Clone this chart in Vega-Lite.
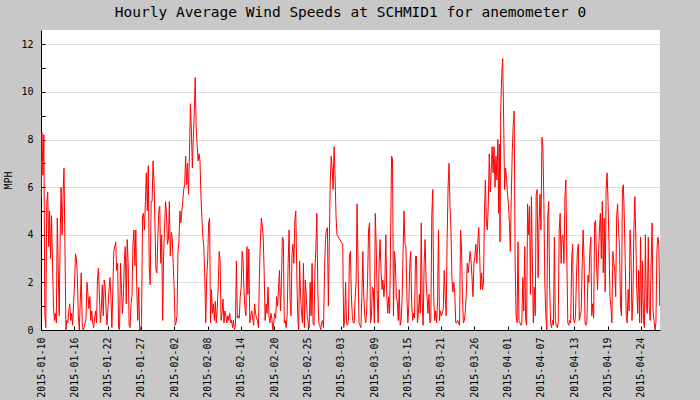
{
  "$schema": "https://vega.github.io/schema/vega-lite/v6.json",
  "width": 619,
  "height": 300,
  "autosize": {"type": "none"},
  "padding": {"left": 41, "top": 30, "right": 40, "bottom": 70},
  "background": "#c8c8c8",
  "config": {
    "view": {"stroke": null, "fill": "#ffffff"},
    "font": "DejaVu Sans Mono"
  },
  "title": {
    "text": "Hourly Average Wind Speeds at SCHMID1 for anemometer 0",
    "font": "DejaVu Sans Mono",
    "fontSize": 14.5,
    "fontWeight": "normal",
    "color": "#000000",
    "anchor": "middle",
    "frame": "group",
    "baseline": "alphabetic",
    "offset": 14,
    "dy": 15
  },
  "data": {"values": [
{"t":"2015-01-10T12:00","v":5.5},{"t":"2015-01-10T16:00","v":8.3},{"t":"2015-01-10T20:00","v":6.5},
{"t":"2015-01-11T00:00","v":8.2},{"t":"2015-01-11T04:00","v":0.6},{"t":"2015-01-11T08:00","v":0.1},{"t":"2015-01-11T12:00","v":5.3},{"t":"2015-01-11T16:00","v":5.8},{"t":"2015-01-11T20:00","v":3.5},
{"t":"2015-01-12T00:00","v":5.0},{"t":"2015-01-12T04:00","v":3.0},{"t":"2015-01-12T08:00","v":4.8},{"t":"2015-01-12T12:00","v":2.9},{"t":"2015-01-12T16:00","v":1.0},{"t":"2015-01-12T20:00","v":0.4},
{"t":"2015-01-13T00:00","v":0.7},{"t":"2015-01-13T04:00","v":0.3},{"t":"2015-01-13T08:00","v":4.7},{"t":"2015-01-13T12:00","v":2.5},{"t":"2015-01-13T16:00","v":0.6},{"t":"2015-01-13T20:00","v":3.9},
{"t":"2015-01-14T00:00","v":6.0},{"t":"2015-01-14T04:00","v":4.0},{"t":"2015-01-14T08:00","v":5.6},{"t":"2015-01-14T12:00","v":6.8},{"t":"2015-01-14T16:00","v":3.5},{"t":"2015-01-14T20:00","v":0.0},
{"t":"2015-01-15T00:00","v":0.4},{"t":"2015-01-15T04:00","v":0.3},{"t":"2015-01-15T08:00","v":0.8},{"t":"2015-01-15T12:00","v":1.1},{"t":"2015-01-15T16:00","v":0.4},{"t":"2015-01-15T20:00","v":0.7},
{"t":"2015-01-16T00:00","v":0.2},{"t":"2015-01-16T04:00","v":1.1},{"t":"2015-01-16T08:00","v":1.9},{"t":"2015-01-16T12:00","v":3.2},{"t":"2015-01-16T16:00","v":3.0},{"t":"2015-01-16T20:00","v":2.2},
{"t":"2015-01-17T00:00","v":0.6},{"t":"2015-01-17T04:00","v":0.0},{"t":"2015-01-17T08:00","v":1.2},{"t":"2015-01-17T12:00","v":2.4},{"t":"2015-01-17T16:00","v":0.3},{"t":"2015-01-17T20:00","v":0.0},
{"t":"2015-01-18T00:00","v":0.1},{"t":"2015-01-18T04:00","v":0.3},{"t":"2015-01-18T08:00","v":0.5},{"t":"2015-01-18T12:00","v":2.0},{"t":"2015-01-18T16:00","v":1.5},{"t":"2015-01-18T20:00","v":0.9},
{"t":"2015-01-19T00:00","v":1.4},{"t":"2015-01-19T04:00","v":0.4},{"t":"2015-01-19T08:00","v":0.8},{"t":"2015-01-19T12:00","v":0.3},{"t":"2015-01-19T16:00","v":0.1},{"t":"2015-01-19T20:00","v":0.5},
{"t":"2015-01-20T00:00","v":0.8},{"t":"2015-01-20T04:00","v":0.3},{"t":"2015-01-20T08:00","v":2.2},{"t":"2015-01-20T12:00","v":2.6},{"t":"2015-01-20T16:00","v":1.4},{"t":"2015-01-20T20:00","v":0.3},
{"t":"2015-01-21T00:00","v":0.9},{"t":"2015-01-21T04:00","v":1.9},{"t":"2015-01-21T08:00","v":0.6},{"t":"2015-01-21T12:00","v":2.1},{"t":"2015-01-21T16:00","v":1.8},{"t":"2015-01-21T20:00","v":0.8},
{"t":"2015-01-22T00:00","v":0.2},{"t":"2015-01-22T04:00","v":1.0},{"t":"2015-01-22T08:00","v":1.7},{"t":"2015-01-22T12:00","v":2.2},{"t":"2015-01-22T16:00","v":1.4},{"t":"2015-01-22T20:00","v":0.1},
{"t":"2015-01-23T00:00","v":1.7},{"t":"2015-01-23T04:00","v":3.3},{"t":"2015-01-23T08:00","v":3.5},{"t":"2015-01-23T12:00","v":3.7},{"t":"2015-01-23T16:00","v":2.5},{"t":"2015-01-23T20:00","v":2.8},
{"t":"2015-01-24T00:00","v":0.1},{"t":"2015-01-24T04:00","v":0.0},{"t":"2015-01-24T08:00","v":2.8},{"t":"2015-01-24T12:00","v":1.7},{"t":"2015-01-24T16:00","v":0.7},{"t":"2015-01-24T20:00","v":1.4},
{"t":"2015-01-25T00:00","v":2.9},{"t":"2015-01-25T04:00","v":3.5},{"t":"2015-01-25T08:00","v":1.1},{"t":"2015-01-25T12:00","v":3.8},{"t":"2015-01-25T16:00","v":2.8},{"t":"2015-01-25T20:00","v":0.2},
{"t":"2015-01-26T00:00","v":0.1},{"t":"2015-01-26T04:00","v":1.1},{"t":"2015-01-26T08:00","v":1.4},{"t":"2015-01-26T12:00","v":3.6},{"t":"2015-01-26T16:00","v":4.2},{"t":"2015-01-26T20:00","v":2.7},
{"t":"2015-01-27T00:00","v":4.2},{"t":"2015-01-27T04:00","v":1.7},{"t":"2015-01-27T08:00","v":0.4},{"t":"2015-01-27T12:00","v":1.8},{"t":"2015-01-27T16:00","v":0.0},{"t":"2015-01-27T20:00","v":0.0},
{"t":"2015-01-28T00:00","v":0.3},{"t":"2015-01-28T04:00","v":4.8},{"t":"2015-01-28T08:00","v":4.9},{"t":"2015-01-28T12:00","v":4.2},{"t":"2015-01-28T16:00","v":5.4},{"t":"2015-01-28T20:00","v":6.6},
{"t":"2015-01-29T00:00","v":5.0},{"t":"2015-01-29T04:00","v":6.9},{"t":"2015-01-29T08:00","v":2.7},{"t":"2015-01-29T12:00","v":1.9},{"t":"2015-01-29T16:00","v":5.4},{"t":"2015-01-29T20:00","v":5.4},
{"t":"2015-01-30T00:00","v":7.1},{"t":"2015-01-30T04:00","v":6.2},{"t":"2015-01-30T08:00","v":4.4},{"t":"2015-01-30T12:00","v":2.5},{"t":"2015-01-30T16:00","v":2.4},{"t":"2015-01-30T20:00","v":3.9},
{"t":"2015-01-31T00:00","v":5.0},{"t":"2015-01-31T04:00","v":5.2},{"t":"2015-01-31T08:00","v":2.8},{"t":"2015-01-31T12:00","v":4.0},{"t":"2015-01-31T16:00","v":0.4},{"t":"2015-01-31T20:00","v":3.1},
{"t":"2015-02-01T00:00","v":4.3},{"t":"2015-02-01T04:00","v":5.4},{"t":"2015-02-01T08:00","v":4.9},{"t":"2015-02-01T12:00","v":3.6},{"t":"2015-02-01T16:00","v":3.8},{"t":"2015-02-01T20:00","v":5.4},
{"t":"2015-02-02T00:00","v":3.1},{"t":"2015-02-02T04:00","v":4.1},{"t":"2015-02-02T08:00","v":3.9},{"t":"2015-02-02T12:00","v":2.8},{"t":"2015-02-02T16:00","v":1.8},{"t":"2015-02-02T20:00","v":0.2},
{"t":"2015-02-03T00:00","v":0.3},{"t":"2015-02-03T04:00","v":0.6},{"t":"2015-02-03T08:00","v":3.3},{"t":"2015-02-03T12:00","v":3.7},{"t":"2015-02-03T16:00","v":5.0},{"t":"2015-02-03T20:00","v":4.5},
{"t":"2015-02-04T00:00","v":5.0},{"t":"2015-02-04T04:00","v":5.4},{"t":"2015-02-04T08:00","v":5.9},{"t":"2015-02-04T12:00","v":6.1},{"t":"2015-02-04T16:00","v":7.3},{"t":"2015-02-04T20:00","v":6.1},
{"t":"2015-02-05T00:00","v":7.0},{"t":"2015-02-05T04:00","v":5.7},{"t":"2015-02-05T08:00","v":7.4},{"t":"2015-02-05T12:00","v":9.5},{"t":"2015-02-05T16:00","v":8.4},{"t":"2015-02-05T20:00","v":6.8},
{"t":"2015-02-06T00:00","v":8.0},{"t":"2015-02-06T04:00","v":9.1},{"t":"2015-02-06T08:00","v":10.6},{"t":"2015-02-06T12:00","v":8.5},{"t":"2015-02-06T16:00","v":7.8},{"t":"2015-02-06T20:00","v":7.1},
{"t":"2015-02-07T00:00","v":7.4},{"t":"2015-02-07T04:00","v":7.1},{"t":"2015-02-07T08:00","v":5.6},{"t":"2015-02-07T12:00","v":4.7},{"t":"2015-02-07T16:00","v":3.9},{"t":"2015-02-07T20:00","v":3.5},
{"t":"2015-02-08T00:00","v":2.2},{"t":"2015-02-08T04:00","v":0.3},{"t":"2015-02-08T08:00","v":2.2},{"t":"2015-02-08T12:00","v":2.9},{"t":"2015-02-08T16:00","v":4.5},{"t":"2015-02-08T20:00","v":4.7},
{"t":"2015-02-09T00:00","v":0.3},{"t":"2015-02-09T04:00","v":1.7},{"t":"2015-02-09T08:00","v":0.7},{"t":"2015-02-09T12:00","v":1.1},{"t":"2015-02-09T16:00","v":0.4},{"t":"2015-02-09T20:00","v":1.2},
{"t":"2015-02-10T00:00","v":0.3},{"t":"2015-02-10T04:00","v":0.9},{"t":"2015-02-10T08:00","v":1.8},{"t":"2015-02-10T12:00","v":3.3},{"t":"2015-02-10T16:00","v":2.9},{"t":"2015-02-10T20:00","v":0.4},
{"t":"2015-02-11T00:00","v":0.7},{"t":"2015-02-11T04:00","v":1.3},{"t":"2015-02-11T08:00","v":0.3},{"t":"2015-02-11T12:00","v":0.8},{"t":"2015-02-11T16:00","v":0.6},{"t":"2015-02-11T20:00","v":0.3},
{"t":"2015-02-12T00:00","v":0.6},{"t":"2015-02-12T04:00","v":0.4},{"t":"2015-02-12T08:00","v":0.7},{"t":"2015-02-12T12:00","v":0.3},{"t":"2015-02-12T16:00","v":0.4},{"t":"2015-02-12T20:00","v":0.1},
{"t":"2015-02-13T00:00","v":0.4},{"t":"2015-02-13T04:00","v":0.0},{"t":"2015-02-13T08:00","v":0.2},{"t":"2015-02-13T12:00","v":2.9},{"t":"2015-02-13T16:00","v":0.5},{"t":"2015-02-13T20:00","v":0.6},
{"t":"2015-02-14T00:00","v":0.5},{"t":"2015-02-14T04:00","v":1.4},{"t":"2015-02-14T08:00","v":1.8},{"t":"2015-02-14T12:00","v":3.3},{"t":"2015-02-14T16:00","v":2.9},{"t":"2015-02-14T20:00","v":1.6},
{"t":"2015-02-15T00:00","v":0.9},{"t":"2015-02-15T04:00","v":0.6},{"t":"2015-02-15T08:00","v":3.5},{"t":"2015-02-15T12:00","v":1.5},{"t":"2015-02-15T16:00","v":3.4},{"t":"2015-02-15T20:00","v":0.3},
{"t":"2015-02-16T00:00","v":0.6},{"t":"2015-02-16T04:00","v":0.8},{"t":"2015-02-16T08:00","v":0.5},{"t":"2015-02-16T12:00","v":0.2},{"t":"2015-02-16T16:00","v":1.1},{"t":"2015-02-16T20:00","v":0.7},
{"t":"2015-02-17T00:00","v":0.5},{"t":"2015-02-17T04:00","v":0.4},{"t":"2015-02-17T08:00","v":0.1},{"t":"2015-02-17T12:00","v":2.2},{"t":"2015-02-17T16:00","v":3.7},{"t":"2015-02-17T20:00","v":4.7},
{"t":"2015-02-18T00:00","v":4.4},{"t":"2015-02-18T04:00","v":3.9},{"t":"2015-02-18T08:00","v":2.4},{"t":"2015-02-18T12:00","v":0.4},{"t":"2015-02-18T16:00","v":1.1},{"t":"2015-02-18T20:00","v":0.7},
{"t":"2015-02-19T00:00","v":1.8},{"t":"2015-02-19T04:00","v":0.6},{"t":"2015-02-19T08:00","v":0.3},{"t":"2015-02-19T12:00","v":0.7},{"t":"2015-02-19T16:00","v":0.5},{"t":"2015-02-19T20:00","v":0.0},
{"t":"2015-02-20T00:00","v":0.3},{"t":"2015-02-20T04:00","v":0.7},{"t":"2015-02-20T08:00","v":0.5},{"t":"2015-02-20T12:00","v":1.4},{"t":"2015-02-20T16:00","v":1.0},{"t":"2015-02-20T20:00","v":1.8},
{"t":"2015-02-21T00:00","v":2.5},{"t":"2015-02-21T04:00","v":0.8},{"t":"2015-02-21T08:00","v":1.9},{"t":"2015-02-21T12:00","v":3.9},{"t":"2015-02-21T16:00","v":3.8},{"t":"2015-02-21T20:00","v":0.3},
{"t":"2015-02-22T00:00","v":0.4},{"t":"2015-02-22T04:00","v":0.1},{"t":"2015-02-22T08:00","v":0.6},{"t":"2015-02-22T12:00","v":2.8},{"t":"2015-02-22T16:00","v":4.2},{"t":"2015-02-22T20:00","v":1.3},
{"t":"2015-02-23T00:00","v":0.6},{"t":"2015-02-23T04:00","v":3.1},{"t":"2015-02-23T08:00","v":3.6},{"t":"2015-02-23T12:00","v":2.8},{"t":"2015-02-23T16:00","v":4.6},{"t":"2015-02-23T20:00","v":5.0},
{"t":"2015-02-24T00:00","v":2.5},{"t":"2015-02-24T04:00","v":0.6},{"t":"2015-02-24T08:00","v":0.0},{"t":"2015-02-24T12:00","v":2.9},{"t":"2015-02-24T16:00","v":1.5},{"t":"2015-02-24T20:00","v":0.7},
{"t":"2015-02-25T00:00","v":0.3},{"t":"2015-02-25T04:00","v":2.8},{"t":"2015-02-25T08:00","v":0.1},{"t":"2015-02-25T12:00","v":2.1},{"t":"2015-02-25T16:00","v":1.4},{"t":"2015-02-25T20:00","v":0.5},
{"t":"2015-02-26T00:00","v":0.3},{"t":"2015-02-26T04:00","v":0.1},{"t":"2015-02-26T08:00","v":2.0},{"t":"2015-02-26T12:00","v":0.6},{"t":"2015-02-26T16:00","v":2.8},{"t":"2015-02-26T20:00","v":0.3},
{"t":"2015-02-27T00:00","v":0.2},{"t":"2015-02-27T04:00","v":2.5},{"t":"2015-02-27T08:00","v":3.5},{"t":"2015-02-27T12:00","v":4.9},{"t":"2015-02-27T16:00","v":1.7},{"t":"2015-02-27T20:00","v":0.3},
{"t":"2015-02-28T00:00","v":0.2},{"t":"2015-02-28T04:00","v":0.0},{"t":"2015-02-28T08:00","v":0.3},{"t":"2015-02-28T12:00","v":0.4},{"t":"2015-02-28T16:00","v":0.1},{"t":"2015-02-28T20:00","v":2.5},
{"t":"2015-03-01T00:00","v":3.8},{"t":"2015-03-01T04:00","v":4.2},{"t":"2015-03-01T08:00","v":4.3},{"t":"2015-03-01T12:00","v":1.0},{"t":"2015-03-01T16:00","v":3.6},{"t":"2015-03-01T20:00","v":6.3},
{"t":"2015-03-02T00:00","v":7.3},{"t":"2015-03-02T04:00","v":6.8},{"t":"2015-03-02T08:00","v":5.9},{"t":"2015-03-02T12:00","v":7.7},{"t":"2015-03-02T16:00","v":6.5},{"t":"2015-03-02T20:00","v":4.8},
{"t":"2015-03-03T00:00","v":4.0},
{"t":"2015-03-04T00:00","v":3.6},{"t":"2015-03-04T04:00","v":0.1},{"t":"2015-03-04T08:00","v":0.4},{"t":"2015-03-04T12:00","v":2.0},{"t":"2015-03-04T16:00","v":0.3},{"t":"2015-03-04T20:00","v":0.2},
{"t":"2015-03-05T00:00","v":0.4},{"t":"2015-03-05T04:00","v":3.1},{"t":"2015-03-05T08:00","v":3.3},{"t":"2015-03-05T12:00","v":1.5},{"t":"2015-03-05T16:00","v":0.6},{"t":"2015-03-05T20:00","v":0.3},
{"t":"2015-03-06T00:00","v":0.3},{"t":"2015-03-06T04:00","v":1.4},{"t":"2015-03-06T08:00","v":2.0},{"t":"2015-03-06T12:00","v":5.3},{"t":"2015-03-06T16:00","v":2.8},{"t":"2015-03-06T20:00","v":0.3},
{"t":"2015-03-07T00:00","v":0.2},{"t":"2015-03-07T04:00","v":0.1},{"t":"2015-03-07T08:00","v":1.4},{"t":"2015-03-07T12:00","v":3.3},{"t":"2015-03-07T16:00","v":1.4},{"t":"2015-03-07T20:00","v":0.6},
{"t":"2015-03-08T00:00","v":0.3},{"t":"2015-03-08T04:00","v":0.8},{"t":"2015-03-08T08:00","v":2.2},{"t":"2015-03-08T12:00","v":4.2},{"t":"2015-03-08T16:00","v":4.5},{"t":"2015-03-08T20:00","v":0.3},
{"t":"2015-03-09T00:00","v":0.6},{"t":"2015-03-09T04:00","v":1.8},{"t":"2015-03-09T08:00","v":1.7},{"t":"2015-03-09T12:00","v":0.3},{"t":"2015-03-09T16:00","v":4.9},{"t":"2015-03-09T20:00","v":3.5},
{"t":"2015-03-10T00:00","v":1.4},{"t":"2015-03-10T04:00","v":0.3},{"t":"2015-03-10T08:00","v":2.8},{"t":"2015-03-10T12:00","v":3.8},{"t":"2015-03-10T16:00","v":2.5},{"t":"2015-03-10T20:00","v":1.7},
{"t":"2015-03-11T00:00","v":2.1},{"t":"2015-03-11T04:00","v":1.4},{"t":"2015-03-11T08:00","v":2.0},{"t":"2015-03-11T12:00","v":4.0},{"t":"2015-03-11T16:00","v":1.5},{"t":"2015-03-11T20:00","v":0.7},
{"t":"2015-03-12T00:00","v":1.4},{"t":"2015-03-12T04:00","v":0.7},{"t":"2015-03-12T08:00","v":3.9},{"t":"2015-03-12T12:00","v":7.3},{"t":"2015-03-12T16:00","v":7.2},{"t":"2015-03-12T20:00","v":0.6},
{"t":"2015-03-13T00:00","v":3.3},{"t":"2015-03-13T04:00","v":2.8},{"t":"2015-03-13T08:00","v":1.4},{"t":"2015-03-13T12:00","v":1.2},{"t":"2015-03-13T16:00","v":0.4},{"t":"2015-03-13T20:00","v":1.7},
{"t":"2015-03-14T00:00","v":0.2},{"t":"2015-03-14T04:00","v":0.4},{"t":"2015-03-14T08:00","v":1.3},{"t":"2015-03-14T12:00","v":3.3},{"t":"2015-03-14T16:00","v":5.0},{"t":"2015-03-14T20:00","v":3.6},
{"t":"2015-03-15T00:00","v":3.5},{"t":"2015-03-15T04:00","v":1.4},{"t":"2015-03-15T08:00","v":0.3},{"t":"2015-03-15T12:00","v":1.0},{"t":"2015-03-15T16:00","v":2.8},{"t":"2015-03-15T20:00","v":3.3},
{"t":"2015-03-16T00:00","v":1.1},{"t":"2015-03-16T04:00","v":0.4},{"t":"2015-03-16T08:00","v":0.7},{"t":"2015-03-16T12:00","v":0.5},{"t":"2015-03-16T16:00","v":3.1},{"t":"2015-03-16T20:00","v":3.1},
{"t":"2015-03-17T00:00","v":0.3},{"t":"2015-03-17T04:00","v":0.7},{"t":"2015-03-17T08:00","v":1.5},{"t":"2015-03-17T12:00","v":0.7},{"t":"2015-03-17T16:00","v":4.5},{"t":"2015-03-17T20:00","v":1.1},
{"t":"2015-03-18T00:00","v":0.2},{"t":"2015-03-18T04:00","v":2.8},{"t":"2015-03-18T08:00","v":3.8},{"t":"2015-03-18T12:00","v":2.1},{"t":"2015-03-18T16:00","v":1.4},{"t":"2015-03-18T20:00","v":0.7},
{"t":"2015-03-19T00:00","v":1.5},{"t":"2015-03-19T04:00","v":0.3},{"t":"2015-03-19T08:00","v":0.4},{"t":"2015-03-19T12:00","v":4.8},{"t":"2015-03-19T16:00","v":5.9},{"t":"2015-03-19T20:00","v":1.4},
{"t":"2015-03-20T00:00","v":0.4},{"t":"2015-03-20T04:00","v":0.8},{"t":"2015-03-20T08:00","v":0.3},{"t":"2015-03-20T12:00","v":1.2},{"t":"2015-03-20T16:00","v":4.2},{"t":"2015-03-20T20:00","v":0.4},
{"t":"2015-03-21T00:00","v":0.8},{"t":"2015-03-21T04:00","v":0.6},{"t":"2015-03-21T08:00","v":0.7},{"t":"2015-03-21T12:00","v":0.9},{"t":"2015-03-21T16:00","v":2.5},{"t":"2015-03-21T20:00","v":1.4},
{"t":"2015-03-22T00:00","v":0.6},{"t":"2015-03-22T04:00","v":3.8},{"t":"2015-03-22T08:00","v":6.0},{"t":"2015-03-22T12:00","v":7.0},{"t":"2015-03-22T16:00","v":5.2},{"t":"2015-03-22T20:00","v":4.2},
{"t":"2015-03-23T00:00","v":2.2},{"t":"2015-03-23T04:00","v":1.6},{"t":"2015-03-23T08:00","v":2.0},{"t":"2015-03-23T12:00","v":1.5},{"t":"2015-03-23T16:00","v":0.3},{"t":"2015-03-23T20:00","v":0.3},
{"t":"2015-03-24T00:00","v":0.4},{"t":"2015-03-24T04:00","v":0.3},{"t":"2015-03-24T08:00","v":0.2},{"t":"2015-03-24T12:00","v":4.2},{"t":"2015-03-24T16:00","v":3.5},{"t":"2015-03-24T20:00","v":1.4},
{"t":"2015-03-25T00:00","v":0.3},{"t":"2015-03-25T04:00","v":0.4},{"t":"2015-03-25T08:00","v":0.8},{"t":"2015-03-25T12:00","v":1.5},{"t":"2015-03-25T16:00","v":2.8},{"t":"2015-03-25T20:00","v":2.4},
{"t":"2015-03-26T00:00","v":2.8},{"t":"2015-03-26T04:00","v":3.3},{"t":"2015-03-26T08:00","v":2.9},{"t":"2015-03-26T12:00","v":2.2},{"t":"2015-03-26T16:00","v":1.4},{"t":"2015-03-26T20:00","v":2.8},
{"t":"2015-03-27T00:00","v":3.1},{"t":"2015-03-27T04:00","v":3.6},{"t":"2015-03-27T08:00","v":2.8},{"t":"2015-03-27T12:00","v":3.6},{"t":"2015-03-27T16:00","v":4.3},{"t":"2015-03-27T20:00","v":3.1},
{"t":"2015-03-28T00:00","v":1.7},{"t":"2015-03-28T04:00","v":2.4},{"t":"2015-03-28T08:00","v":1.7},{"t":"2015-03-28T12:00","v":2.0},{"t":"2015-03-28T16:00","v":5.0},{"t":"2015-03-28T20:00","v":6.3},
{"t":"2015-03-29T00:00","v":4.5},{"t":"2015-03-29T04:00","v":4.2},{"t":"2015-03-29T08:00","v":5.3},{"t":"2015-03-29T12:00","v":7.4},{"t":"2015-03-29T16:00","v":5.8},{"t":"2015-03-29T20:00","v":6.6},
{"t":"2015-03-30T00:00","v":7.7},{"t":"2015-03-30T04:00","v":6.6},{"t":"2015-03-30T08:00","v":7.7},{"t":"2015-03-30T12:00","v":6.0},{"t":"2015-03-30T16:00","v":7.3},{"t":"2015-03-30T20:00","v":6.3},
{"t":"2015-03-31T00:00","v":8.0},{"t":"2015-03-31T03:00","v":4.9},{"t":"2015-03-31T06:00","v":7.8},{"t":"2015-03-31T09:00","v":3.7},{"t":"2015-03-31T12:00","v":9.3},{"t":"2015-03-31T16:00","v":10.7},{"t":"2015-03-31T20:00","v":11.4},
{"t":"2015-04-01T00:00","v":8.9},{"t":"2015-04-01T04:00","v":5.9},{"t":"2015-04-01T08:00","v":6.8},{"t":"2015-04-01T12:00","v":6.4},{"t":"2015-04-01T16:00","v":5.7},{"t":"2015-04-01T20:00","v":5.3},
{"t":"2015-04-02T00:00","v":4.5},{"t":"2015-04-02T04:00","v":3.3},{"t":"2015-04-02T08:00","v":5.6},{"t":"2015-04-02T12:00","v":7.5},{"t":"2015-04-02T16:00","v":8.6},{"t":"2015-04-02T20:00","v":9.2},
{"t":"2015-04-03T00:00","v":2.8},{"t":"2015-04-03T04:00","v":0.6},{"t":"2015-04-03T08:00","v":0.3},{"t":"2015-04-03T12:00","v":3.7},{"t":"2015-04-03T16:00","v":0.4},{"t":"2015-04-03T20:00","v":0.3},
{"t":"2015-04-04T00:00","v":0.2},{"t":"2015-04-04T04:00","v":0.3},{"t":"2015-04-04T08:00","v":2.2},{"t":"2015-04-04T12:00","v":0.8},{"t":"2015-04-04T16:00","v":3.5},{"t":"2015-04-04T20:00","v":0.4},
{"t":"2015-04-05T00:00","v":0.2},{"t":"2015-04-05T04:00","v":5.3},{"t":"2015-04-05T08:00","v":4.0},{"t":"2015-04-05T12:00","v":5.2},{"t":"2015-04-05T16:00","v":1.5},{"t":"2015-04-05T20:00","v":5.6},
{"t":"2015-04-06T00:00","v":2.9},{"t":"2015-04-06T04:00","v":0.3},{"t":"2015-04-06T08:00","v":1.8},{"t":"2015-04-06T12:00","v":0.6},{"t":"2015-04-06T16:00","v":5.7},{"t":"2015-04-06T20:00","v":5.9},
{"t":"2015-04-07T00:00","v":2.2},{"t":"2015-04-07T04:00","v":4.5},{"t":"2015-04-07T08:00","v":5.7},{"t":"2015-04-07T12:00","v":4.2},{"t":"2015-04-07T16:00","v":8.1},{"t":"2015-04-07T20:00","v":7.7},
{"t":"2015-04-08T00:00","v":5.4},{"t":"2015-04-08T04:00","v":2.0},{"t":"2015-04-08T08:00","v":0.7},{"t":"2015-04-08T12:00","v":0.0},{"t":"2015-04-08T16:00","v":4.7},{"t":"2015-04-08T20:00","v":5.4},
{"t":"2015-04-09T00:00","v":1.9},{"t":"2015-04-09T04:00","v":0.3},{"t":"2015-04-09T08:00","v":0.1},{"t":"2015-04-09T12:00","v":0.4},{"t":"2015-04-09T16:00","v":0.2},{"t":"2015-04-09T20:00","v":3.9},
{"t":"2015-04-10T00:00","v":0.4},{"t":"2015-04-10T04:00","v":0.2},{"t":"2015-04-10T08:00","v":0.1},{"t":"2015-04-10T12:00","v":0.3},{"t":"2015-04-10T16:00","v":4.2},{"t":"2015-04-10T20:00","v":4.9},
{"t":"2015-04-11T00:00","v":2.8},{"t":"2015-04-11T04:00","v":3.9},{"t":"2015-04-11T08:00","v":4.0},{"t":"2015-04-11T12:00","v":2.8},{"t":"2015-04-11T16:00","v":5.6},{"t":"2015-04-11T20:00","v":6.3},
{"t":"2015-04-12T00:00","v":2.9},{"t":"2015-04-12T04:00","v":0.3},{"t":"2015-04-12T08:00","v":0.2},{"t":"2015-04-12T12:00","v":0.4},{"t":"2015-04-12T16:00","v":0.3},{"t":"2015-04-12T20:00","v":2.9},
{"t":"2015-04-13T00:00","v":3.6},{"t":"2015-04-13T04:00","v":0.5},{"t":"2015-04-13T08:00","v":0.3},{"t":"2015-04-13T12:00","v":0.6},{"t":"2015-04-13T16:00","v":2.2},{"t":"2015-04-13T20:00","v":3.3},
{"t":"2015-04-14T00:00","v":3.6},{"t":"2015-04-14T04:00","v":0.4},{"t":"2015-04-14T08:00","v":0.6},{"t":"2015-04-14T12:00","v":0.8},{"t":"2015-04-14T16:00","v":2.7},{"t":"2015-04-14T20:00","v":4.2},
{"t":"2015-04-15T00:00","v":2.9},{"t":"2015-04-15T04:00","v":0.3},{"t":"2015-04-15T08:00","v":0.2},{"t":"2015-04-15T12:00","v":0.4},{"t":"2015-04-15T16:00","v":2.3},{"t":"2015-04-15T20:00","v":2.0},
{"t":"2015-04-16T00:00","v":3.3},{"t":"2015-04-16T04:00","v":3.9},{"t":"2015-04-16T08:00","v":0.6},{"t":"2015-04-16T12:00","v":1.1},{"t":"2015-04-16T16:00","v":0.5},{"t":"2015-04-16T20:00","v":4.5},
{"t":"2015-04-17T00:00","v":4.6},{"t":"2015-04-17T04:00","v":2.8},{"t":"2015-04-17T08:00","v":1.7},{"t":"2015-04-17T12:00","v":3.1},{"t":"2015-04-17T16:00","v":4.2},{"t":"2015-04-17T20:00","v":4.9},
{"t":"2015-04-18T00:00","v":3.0},{"t":"2015-04-18T04:00","v":5.4},{"t":"2015-04-18T08:00","v":2.4},{"t":"2015-04-18T12:00","v":4.7},{"t":"2015-04-18T16:00","v":1.6},{"t":"2015-04-18T20:00","v":5.9},
{"t":"2015-04-19T00:00","v":6.6},{"t":"2015-04-19T04:00","v":5.4},{"t":"2015-04-19T08:00","v":3.6},{"t":"2015-04-19T12:00","v":1.4},{"t":"2015-04-19T16:00","v":1.0},{"t":"2015-04-19T20:00","v":0.3},
{"t":"2015-04-20T00:00","v":3.3},{"t":"2015-04-20T04:00","v":2.9},{"t":"2015-04-20T08:00","v":2.5},{"t":"2015-04-20T12:00","v":1.4},{"t":"2015-04-20T16:00","v":4.8},{"t":"2015-04-20T20:00","v":5.3},
{"t":"2015-04-21T00:00","v":4.2},{"t":"2015-04-21T04:00","v":3.5},{"t":"2015-04-21T08:00","v":1.0},{"t":"2015-04-21T12:00","v":0.6},{"t":"2015-04-21T16:00","v":5.9},{"t":"2015-04-21T20:00","v":6.1},
{"t":"2015-04-22T00:00","v":4.7},{"t":"2015-04-22T04:00","v":2.8},{"t":"2015-04-22T08:00","v":0.6},{"t":"2015-04-22T12:00","v":0.3},{"t":"2015-04-22T16:00","v":1.7},{"t":"2015-04-22T20:00","v":0.8},
{"t":"2015-04-23T00:00","v":4.2},{"t":"2015-04-23T04:00","v":3.1},{"t":"2015-04-23T08:00","v":0.4},{"t":"2015-04-23T12:00","v":1.4},{"t":"2015-04-23T16:00","v":4.2},{"t":"2015-04-23T20:00","v":5.6},
{"t":"2015-04-24T00:00","v":3.9},{"t":"2015-04-24T04:00","v":1.7},{"t":"2015-04-24T08:00","v":0.7},{"t":"2015-04-24T12:00","v":2.5},{"t":"2015-04-24T16:00","v":0.3},{"t":"2015-04-24T20:00","v":3.9},
{"t":"2015-04-25T00:00","v":0.3},{"t":"2015-04-25T04:00","v":2.9},{"t":"2015-04-25T08:00","v":0.4},{"t":"2015-04-25T12:00","v":0.1},{"t":"2015-04-25T16:00","v":4.0},{"t":"2015-04-25T20:00","v":1.0},
{"t":"2015-04-26T00:00","v":0.7},{"t":"2015-04-26T04:00","v":3.9},{"t":"2015-04-26T08:00","v":0.9},{"t":"2015-04-26T12:00","v":0.4},{"t":"2015-04-26T16:00","v":2.8},{"t":"2015-04-26T20:00","v":4.5},
{"t":"2015-04-27T00:00","v":0.8},{"t":"2015-04-27T04:00","v":0.4},{"t":"2015-04-27T08:00","v":0.0},{"t":"2015-04-27T12:00","v":0.3},{"t":"2015-04-27T16:00","v":3.3},{"t":"2015-04-27T20:00","v":3.9},
{"t":"2015-04-28T00:00","v":3.6},{"t":"2015-04-28T04:00","v":1.0}
  ]},
  "mark": {"type": "line", "color": "#ff0000", "strokeWidth": 1, "interpolate": "linear", "clip": true},
  "encoding": {
    "x": {
      "field": "t",
      "type": "temporal",
      "scale": {"domain": [{"year": 2015, "month": 1, "date": 10, "hours": 12}, {"year": 2015, "month": 4, "date": 28, "hours": 5}], "nice": false},
      "axis": {
        "title": null,
        "values": [
          {"year": 2015, "month": 1, "date": 10, "hours": 12},
          {"year": 2015, "month": 1, "date": 16, "hours": 7, "minutes": 12},
          {"year": 2015, "month": 1, "date": 22, "hours": 2, "minutes": 24},
          {"year": 2015, "month": 1, "date": 27, "hours": 21, "minutes": 36},
          {"year": 2015, "month": 2, "date": 2, "hours": 16, "minutes": 48},
          {"year": 2015, "month": 2, "date": 8, "hours": 12},
          {"year": 2015, "month": 2, "date": 14, "hours": 7, "minutes": 12},
          {"year": 2015, "month": 2, "date": 20, "hours": 2, "minutes": 24},
          {"year": 2015, "month": 2, "date": 25, "hours": 21, "minutes": 36},
          {"year": 2015, "month": 3, "date": 3, "hours": 16, "minutes": 48},
          {"year": 2015, "month": 3, "date": 9, "hours": 12},
          {"year": 2015, "month": 3, "date": 15, "hours": 7, "minutes": 12},
          {"year": 2015, "month": 3, "date": 21, "hours": 2, "minutes": 24},
          {"year": 2015, "month": 3, "date": 26, "hours": 21, "minutes": 36},
          {"year": 2015, "month": 4, "date": 1, "hours": 16, "minutes": 48},
          {"year": 2015, "month": 4, "date": 7, "hours": 12},
          {"year": 2015, "month": 4, "date": 13, "hours": 7, "minutes": 12},
          {"year": 2015, "month": 4, "date": 19, "hours": 2, "minutes": 24},
          {"year": 2015, "month": 4, "date": 24, "hours": 21, "minutes": 36}
        ],
        "format": "%Y-%m-%d",
        "labelAngle": 270,
        "labelAlign": "right",
        "labelBaseline": "middle",
        "labelFont": "DejaVu Sans Mono",
        "labelFontSize": 10,
        "labelColor": "#000000",
        "labelPadding": 11,
        "labelOverlap": false,
        "labelFlush": false,
        "tickSize": -4,
        "tickColor": "#000000",
        "domainColor": "#000000",
        "grid": false
      }
    },
    "y": {
      "field": "v",
      "type": "quantitative",
      "scale": {"domain": [0, 12.6], "nice": false, "zero": true},
      "axis": {
        "title": "MPH",
        "titleFont": "DejaVu Sans Mono",
        "titleFontSize": 10,
        "titleFontWeight": "normal",
        "titleColor": "#000000",
        "titlePadding": 7,
        "values": [0, 1, 2, 3, 4, 5, 6, 7, 8, 9, 10, 11, 12],
        "labelExpr": "datum.value % 2 === 0 ? datum.label : ''",
        "labelFont": "DejaVu Sans Mono",
        "labelFontSize": 10,
        "labelColor": "#000000",
        "labelPadding": 12,
        "tickSize": -4,
        "tickColor": "#000000",
        "domainColor": "#000000",
        "grid": true,
        "gridColor": "#dcdcdc",
        "gridOpacity": {"condition": {"test": "datum.value % 2 !== 0 || datum.value === 0", "value": 0}, "value": 1}
      }
    }
  }
}
